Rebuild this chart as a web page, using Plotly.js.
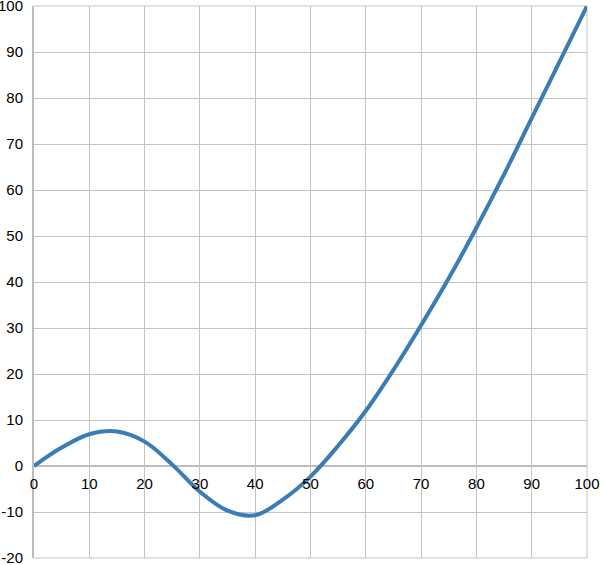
<!DOCTYPE html>
<html>
<head>
<meta charset="utf-8">
<script src="https://cdn.plot.ly/plotly-3.0.1.min.js"></script>
<style>html,body{margin:0;padding:0;background:#fff;}#chart{width:600px;height:565px;}</style>
</head>
<body>
<div id="chart"></div>
<script>
const xValues = [0, 5, 10, 15, 20, 25, 30, 35, 40, 45, 50, 55, 60, 65, 70, 75, 80, 85, 90, 95, 100];
const yValues = [0, 4.0, 6.9, 7.5, 5.3, 0.3, -5.6, -9.7, -10.7, -7.3, -2.3, 4.4, 12.0, 20.9, 30.6, 40.8, 51.8, 63.4, 75.6, 87.8, 100];
const xTicks = [0, 10, 20, 30, 40, 50, 60, 70, 80, 90, 100];
const yTicks = [-20, -10, 0, 10, 20, 30, 40, 50, 60, 70, 80, 90, 100];

const trace = {
  x: xValues, y: yValues, type: 'scatter', mode: 'lines',
  line: {color: '#3a7db5', width: 4, shape: 'spline', smoothing: 1},
  hoverinfo: 'skip'
};

const gridColor = '#c4c4c4';
const layout = {
  width: 600, height: 565,
  margin: {l: 34, r: 13, t: 6, b: 7},
  paper_bgcolor: '#ffffff', plot_bgcolor: '#ffffff',
  showlegend: false,
  font: {family: 'Liberation Sans, Arial, sans-serif', size: 15, color: '#000'},
  xaxis: {
    range: [0, 100], tickvals: xTicks, ticktext: xTicks.map(String),
    showgrid: true, gridcolor: gridColor, gridwidth: 1,
    zeroline: false, showline: false,
    anchor: 'free', position: 20/120,
    ticks: 'outside', ticklen: 4, tickcolor: 'rgba(0,0,0,0)',
    ticklabeloverflow: 'allow',
    tickfont: {family: 'Liberation Sans, Arial, sans-serif', size: 15, color: '#000'}
  },
  yaxis: {
    range: [-20, 100], tickvals: yTicks, ticktext: yTicks.map(String),
    showgrid: true, gridcolor: gridColor, gridwidth: 1,
    zeroline: true, zerolinecolor: '#bdbdbd', zerolinewidth: 2,
    showline: true, linecolor: '#bdbdbd', linewidth: 2,
    ticks: 'outside', ticklen: 6, tickcolor: 'rgba(0,0,0,0)',
    ticklabeloverflow: 'allow',
    tickfont: {family: 'Liberation Sans, Arial, sans-serif', size: 15, color: '#000'}
  },
  shapes: [
    {type: 'line', xref: 'paper', yref: 'paper', x0: 0, x1: 1, y0: 1, y1: 1, line: {color: gridColor, width: 1}, layer: 'below'},
    {type: 'line', xref: 'paper', yref: 'paper', x0: 0, x1: 1, y0: 0, y1: 0, line: {color: gridColor, width: 1}, layer: 'below'},
    {type: 'line', xref: 'paper', yref: 'paper', x0: 1, x1: 1, y0: 0, y1: 1, line: {color: gridColor, width: 1}, layer: 'below'}
  ]
};

Plotly.newPlot('chart', [trace], layout, {staticPlot: true, displayModeBar: false});
</script>
</body>
</html>
